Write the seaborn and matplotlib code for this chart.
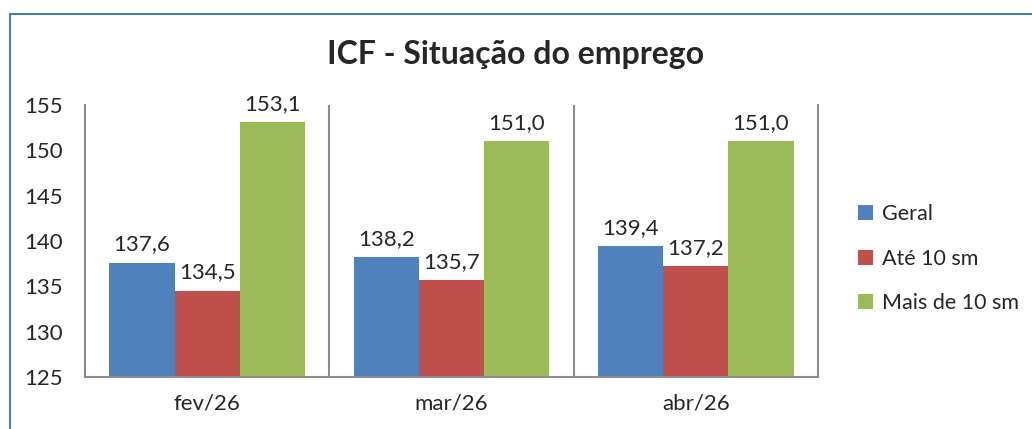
import pandas as pd
import seaborn as sns
import matplotlib.pyplot as plt
from matplotlib.patches import Rectangle

# data
meses = ["fev/26", "mar/26", "abr/26"]
series = ["Geral", "Até 10 sm", "Mais de 10 sm"]
geral = [137.6, 138.2, 139.4]
ate_10 = [134.5, 135.7, 137.2]
mais_10 = [153.1, 151.0, 151.0]
cores = ["#4F81BD", "#C0504D", "#9BBB59"]

df = pd.DataFrame({
    "mes": meses * 3,
    "serie": [series[0]] * 3 + [series[1]] * 3 + [series[2]] * 3,
    "valor": geral + ate_10 + mais_10,
})

sns.set_style("white")
plt.rcParams["font.family"] = ["Lato", "DejaVu Sans"]

fig = plt.figure(figsize=(10.32, 4.29), dpi=100)
ax = fig.add_axes([0.0824, 0.1212, 0.7102, 0.634])

sns.barplot(data=df, x="mes", y="valor", hue="serie", order=meses,
            hue_order=series, palette=cores, width=0.8, saturation=1,
            edgecolor="none", ax=ax)

ax.set_ylim(125, 155)
ax.set_yticks(range(125, 156, 5))
ax.set_xlim(-0.5, len(meses) - 0.5)
ax.set_xlabel("")
ax.set_ylabel("")
ax.tick_params(axis="x", labelsize=16, length=0, pad=12)
ax.tick_params(axis="y", labelsize=16, length=0, pad=16)

for s in ["left", "bottom", "right"]:
    ax.spines[s].set_color("#8C8C8C")
    ax.spines[s].set_linewidth(1.5)
ax.spines["top"].set_visible(False)
for xv in [0.5, 1.5]:
    ax.axvline(xv, color="#8C8C8C", lw=1.5)

for cont in ax.containers:
    labels = [f"{v:.1f}".replace(".", ",") for v in cont.datavalues]
    ax.bar_label(cont, labels=labels, padding=6, fontsize=16)

fig.text(0.5, 0.872, "ICF - Situação do emprego", ha="center", va="center",
         fontsize=23, fontweight="bold")

ax.legend(loc="center left", bbox_to_anchor=(0.823, 0.397),
          bbox_transform=fig.transFigure, frameon=False, fontsize=15.5,
          handlelength=0.7, handleheight=0.7, handletextpad=0.4,
          labelspacing=1.15, borderaxespad=0)

fig.patches.append(Rectangle((0.0097, -0.1), 1.1, 1.067, transform=fig.transFigure,
                             fill=False, edgecolor="#4A7EBB", lw=1.5))

fig.savefig("out.png", dpi=100)
